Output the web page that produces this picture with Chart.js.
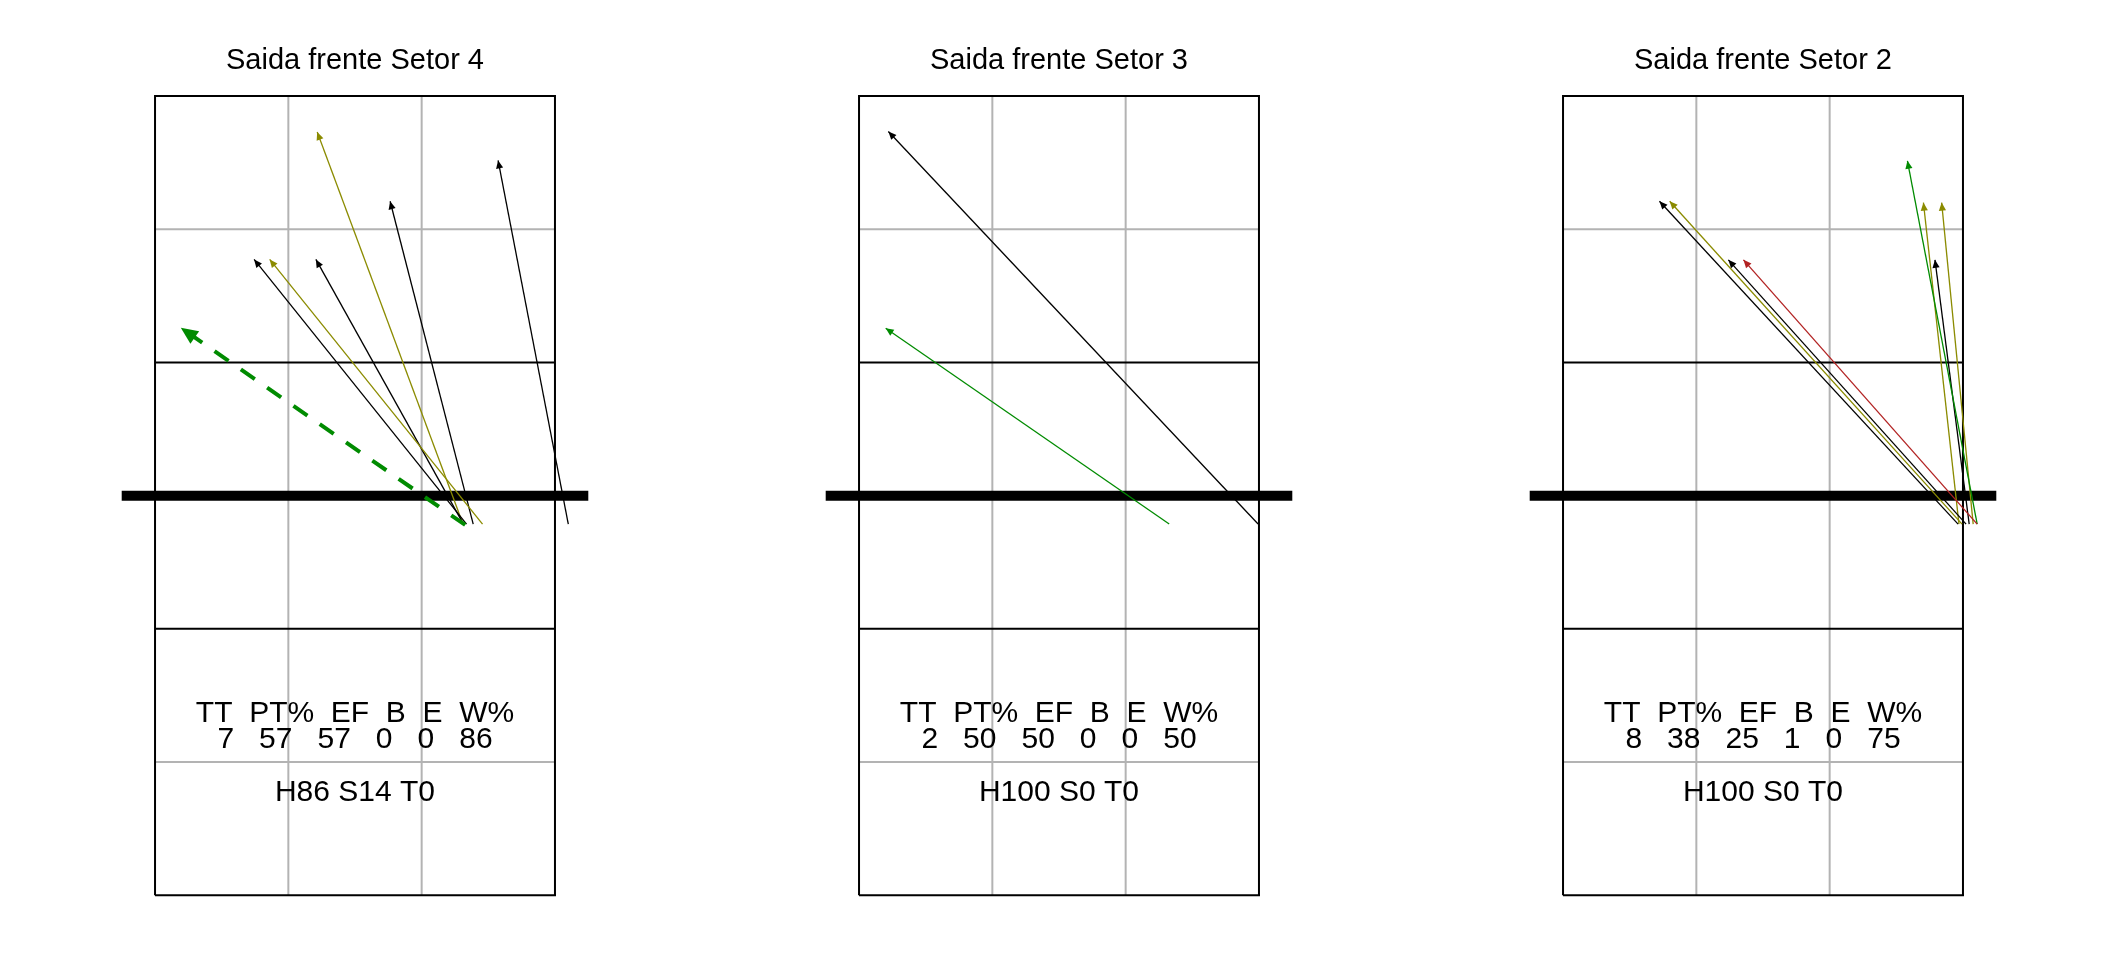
<!DOCTYPE html>
<html>
<head>
<meta charset="utf-8">
<script src="https://cdn.jsdelivr.net/npm/chart.js@4.4.1/dist/chart.umd.min.js"></script>
<style>
  body { margin: 0; background: #fff; width: 2112px; height: 960px; overflow: hidden; }
  .panel { position: absolute; top: 0; width: 704px; height: 960px; }
</style>
</head>
<body>
<div class="panel" style="left:0px"><canvas id="c4" width="704" height="960"></canvas></div>
<div class="panel" style="left:704px"><canvas id="c3" width="704" height="960"></canvas></div>
<div class="panel" style="left:1408px"><canvas id="c2" width="704" height="960"></canvas></div>
<script>
// court is 9 x 18 m, own side at the bottom, net at 9 m
const statLabels = ['TT', 'PT%', 'EF', 'B', 'E', 'W%'];

const title4 = 'Saida frente Setor 4';
const stats4 = [7, 57, 57, 0, 0, 86];
const split4 = 'H86 S14 T0';
const fromX4 = [6.98, 7.01, 7.37, 6.94, 6.93, 7.16, 9.30];
const fromY4 = [8.34, 8.36, 8.36, 8.36, 8.36, 8.36, 8.36];
const toX4   = [0.58, 2.23, 2.58, 3.62, 3.65, 5.29, 7.72];
const toY4   = [12.78, 14.32, 14.32, 14.32, 17.19, 15.63, 16.55];
const kind4  = ['main', 'N', 'O', 'N', 'O', 'N', 'N'];

const title3 = 'Saida frente Setor 3';
const stats3 = [2, 50, 50, 0, 0, 50];
const split3 = 'H100 S0 T0';
const fromX3 = [8.98, 6.98];
const fromY3 = [8.36, 8.36];
const toX3   = [0.66, 0.60];
const toY3   = [17.20, 12.77];
const kind3  = ['N', 'K'];

const title2 = 'Saida frente Setor 2';
const stats2 = [8, 38, 25, 1, 0, 75];
const split2 = 'H100 S0 T0';
const fromX2 = [8.89, 8.98, 9.07, 9.32, 9.32, 8.91, 9.23, 9.14];
const fromY2 = [8.36, 8.36, 8.36, 8.36, 8.36, 8.36, 8.36, 8.36];
const toX2   = [2.17, 2.40, 3.72, 4.06, 7.75, 8.11, 8.52, 8.37];
const toY2   = [15.63, 15.63, 14.31, 14.31, 16.54, 15.60, 15.60, 14.31];
const kind2  = ['N', 'O', 'N', 'R', 'K', 'O', 'O', 'N'];

// court drawing
const borderX = [0, 9, 9, 0, 0];
const borderY = [0, 0, 18, 18, 0];
const attackLinesY = [6, 12];
const greyLinesX = [3, 6];
const greyLinesY = [3, 15];
const netY = 9;
const netX = [-0.75, 9.75];

const kindStyle = {
  main: { color: '#008B00', width: 4, dash: [17, 15], head: 17 },
  K: { color: '#008B00', width: 1.3, dash: [], head: 8 },
  N: { color: '#000000', width: 1.3, dash: [], head: 8 },
  O: { color: '#8B8B00', width: 1.3, dash: [], head: 8 },
  R: { color: '#B22222', width: 1.3, dash: [], head: 8 }
};

function seg(points, color, width, order) {
  return { data: points, borderColor: color, borderWidth: width, showLine: true,
           pointRadius: 0, fill: false, clip: false, order: order,
           borderCapStyle: 'butt', borderJoinStyle: 'miter' };
}

function courtDatasets() {
  const sets = [];
  greyLinesX.forEach(x => sets.push(seg([{x: x, y: 0}, {x: x, y: 18}], '#B3B3B3', 2, 4)));
  greyLinesY.forEach(y => sets.push(seg([{x: 0, y: y}, {x: 9, y: y}], '#B3B3B3', 2, 4)));
  attackLinesY.forEach(y => sets.push(seg([{x: 0, y: y}, {x: 9, y: y}], '#000', 2, 3)));
  sets.push(seg(borderX.map((x, i) => ({x: x, y: borderY[i]})), '#000', 2, 3));
  sets.push(seg(netX.map(x => ({x: x, y: netY})), '#000', 10, 2));
  return sets;
}

const arrowHeads = {
  id: 'arrowHeads',
  afterDatasetsDraw(chart) {
    const ctx = chart.ctx;
    chart.data.datasets.forEach((ds, i) => {
      if (!ds.head) return;
      const pts = chart.getDatasetMeta(i).data;
      const a = pts[0], b = pts[1];
      const ang = Math.atan2(b.y - a.y, b.x - a.x);
      const L = ds.head, W = L * 0.45;
      const bx = b.x - L * Math.cos(ang), by = b.y - L * Math.sin(ang);
      ctx.save();
      ctx.fillStyle = ds.borderColor;
      ctx.beginPath();
      ctx.moveTo(b.x, b.y);
      ctx.lineTo(bx + W * Math.sin(ang), by - W * Math.cos(ang));
      ctx.lineTo(bx - W * Math.sin(ang), by + W * Math.cos(ang));
      ctx.closePath();
      ctx.fill();
      ctx.restore();
    });
  }
};

const courtText = {
  id: 'courtText',
  afterDraw(chart, args, opts) {
    const ctx = chart.ctx;
    const xs = chart.scales.x, ys = chart.scales.y;
    const cx = xs.getPixelForValue(4.5);
    ctx.save();
    ctx.fillStyle = '#000';
    ctx.textAlign = 'center';
    ctx.textBaseline = 'alphabetic';
    ctx.font = '29px "Liberation Sans", Arial, sans-serif';
    ctx.fillText(opts.title, cx, ys.top - 27);
    ctx.font = '30px "Liberation Sans", Arial, sans-serif';
    ctx.fillText(statLabels.join('  '), cx, ys.getPixelForValue(3.9));
    ctx.fillText(opts.values.join('   '), cx, ys.getPixelForValue(3.32));
    ctx.fillText(opts.split, cx, ys.getPixelForValue(2.12));
    ctx.restore();
  }
};

function drawPanel(id, title, stats, split, fx, fy, tx, ty, kinds) {
  const sets = courtDatasets();
  fx.forEach((x, i) => {
    const st = kindStyle[kinds[i]];
    const d = seg([{x: x, y: fy[i]}, {x: tx[i], y: ty[i]}], st.color, st.width, 0);
    d.borderDash = st.dash;
    d.head = st.head;
    sets.push(d);
  });
  new Chart(document.getElementById(id), {
    type: 'scatter',
    data: { datasets: sets },
    options: {
      responsive: false,
      animation: false,
      devicePixelRatio: 1,
      layout: { padding: { left: 121.7, right: 115.7, top: 96, bottom: 64.7 } },
      scales: {
        x: { type: 'linear', min: -0.75, max: 9.75, display: false },
        y: { type: 'linear', min: 0, max: 18, display: false }
      },
      plugins: {
        legend: { display: false },
        tooltip: { enabled: false },
        courtText: { title: title, values: stats, split: split }
      }
    },
    plugins: [arrowHeads, courtText]
  });
}

drawPanel('c4', title4, stats4, split4, fromX4, fromY4, toX4, toY4, kind4);
drawPanel('c3', title3, stats3, split3, fromX3, fromY3, toX3, toY3, kind3);
drawPanel('c2', title2, stats2, split2, fromX2, fromY2, toX2, toY2, kind2);
</script>
</body>
</html>
